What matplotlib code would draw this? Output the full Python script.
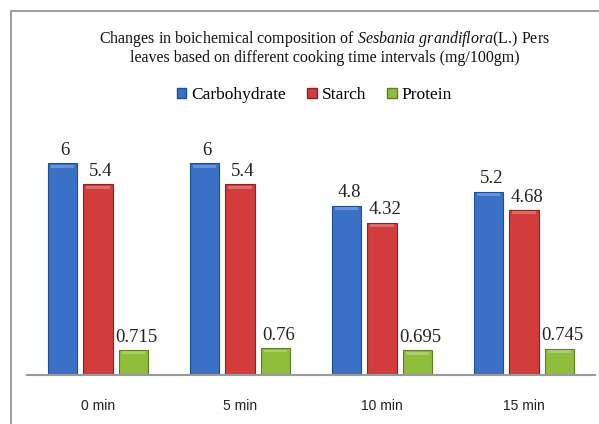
import numpy as np
import matplotlib
matplotlib.use('Agg')
import matplotlib.pyplot as plt
from matplotlib.patches import Rectangle, Patch

## Data
categories = ['0 min', '5 min', '10 min', '15 min']
carbohydrate = [6, 6, 4.8, 5.2]
starch = [5.4, 5.4, 4.32, 4.68]
protein = [0.715, 0.76, 0.695, 0.745]
series_names = ['Carbohydrate', 'Starch', 'Protein']

colors = ['#3a70c6', '#d23c3c', '#8fbd3c']
edges = ['#1f4f8e', '#8e2222', '#5f7f22']

plt.rcParams['mathtext.fontset'] = 'custom'
plt.rcParams['mathtext.it'] = 'Liberation Serif:italic'
plt.rcParams['mathtext.rm'] = 'Liberation Serif'

fig = plt.figure(figsize=(5.99, 4.24), dpi=100)
fig.patch.set_facecolor('white')

# chart frame (extends beyond image at right/bottom)
fig.add_artist(Rectangle((11 / 599, -0.1), 1.2, 1.1 - 11.5 / 424,
                         transform=fig.transFigure, fill=False,
                         edgecolor='#8c8c8c', linewidth=1.2))

ax = fig.add_axes([27 / 599, 49 / 424, 568 / 599, 247 / 424])
x = np.arange(len(categories))
width = 0.205
step = 0.25

for i, vals in enumerate([carbohydrate, starch, protein]):
    pos = x + (i - 1) * step
    ax.bar(pos, vals, width, color=colors[i], edgecolor=edges[i], linewidth=0.8)
    # light bevel along the top of each bar
    ax.bar(pos, [0.08] * len(vals), width * 0.8, bottom=np.array(vals) - 0.12,
           color='white', alpha=0.25, linewidth=0)
    for p, v in zip(pos, vals):
        ax.text(p + 0.02, v + 0.12, '%g' % v, ha='center', va='bottom',
                fontsize=13.5, family='Liberation Serif', color='#222222')

ax.set_xlim(-0.5, 3.5)
ax.set_ylim(0, 7)
ax.set_yticks([])
ax.set_xticks(x)
ax.set_xticklabels(categories, fontsize=10, family='Liberation Sans')
ax.tick_params(axis='x', length=0, pad=17, colors='#222222')
for s in ['top', 'right', 'left']:
    ax.spines[s].set_visible(False)
ax.spines['bottom'].set_color('#9a9a9a')
ax.spines['bottom'].set_linewidth(1.5)

fig.text(0.542, 0.888,
         'Changes in boichemical composition of $\\it{Sesbania\\ grandiflora}$(L.) Pers\n'
         'leaves based on different cooking time intervals (mg/100gm)',
         ha='center', va='center', fontsize=11.5, family='Liberation Serif',
         linespacing=1.15, color='#111111')

handles = [Patch(facecolor=colors[i], edgecolor=edges[i]) for i in range(3)]
leg = fig.legend(handles, series_names, loc='center', bbox_to_anchor=(0.525, 0.776),
                 ncol=3, frameon=False, prop={'family': 'Liberation Serif', 'size': 12.5},
                 handlelength=0.55, handleheight=0.55, handletextpad=0.3, columnspacing=1.2)

plt.savefig('out.png', dpi=100)
